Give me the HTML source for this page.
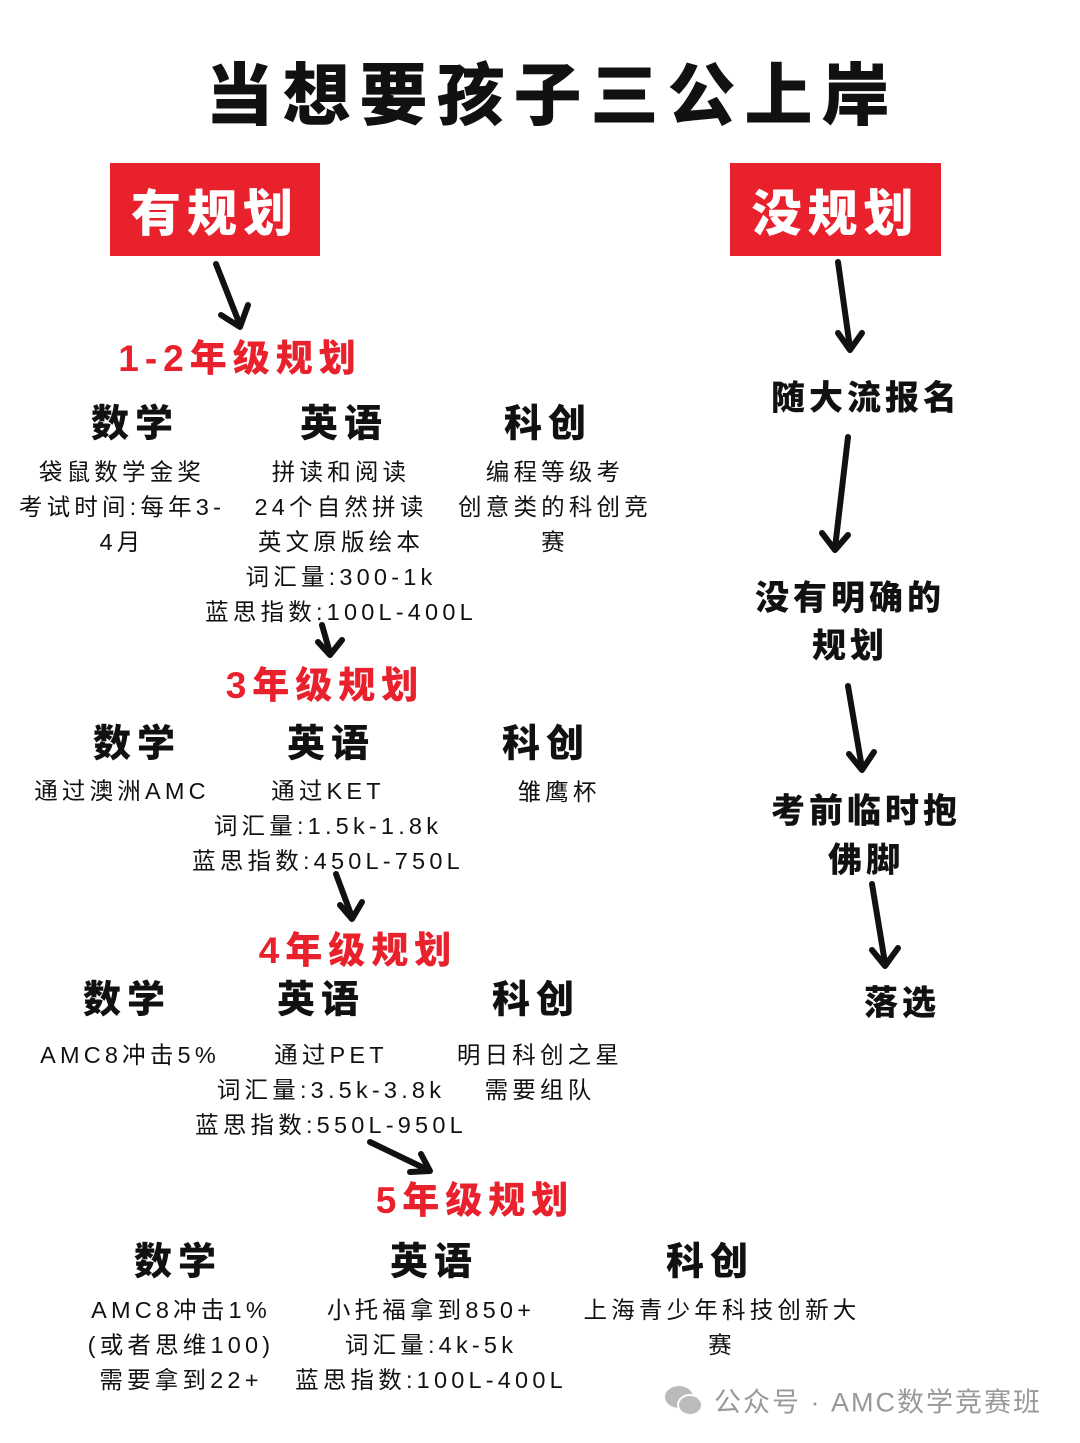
<!DOCTYPE html>
<html><head><meta charset="utf-8"><style>
html,body{margin:0;padding:0;background:#fff;}
body{width:1080px;height:1443px;position:relative;overflow:hidden;font-family:"Liberation Sans","Noto Sans CJK SC",sans-serif;color:#111;}
.t{position:absolute;transform:translate(-50%,-50%);white-space:nowrap;}
.title{font-size:68px;font-weight:900;letter-spacing:9px;}
.box{position:absolute;background:#e8212c;color:#fff;font-size:50px;font-weight:900;letter-spacing:6px;display:flex;align-items:center;justify-content:center;}
.red{color:#e8212c;font-size:37px;font-weight:900;letter-spacing:6px;}
.h{font-size:38px;font-weight:900;letter-spacing:6px;}
.s{font-size:23.5px;letter-spacing:4.2px;}
.r{font-size:34px;font-weight:900;letter-spacing:4px;}
</style></head><body>
<div class="t title" style="left:552px;top:90px">当想要孩子三公上岸</div>
<div class="box" style="left:110px;top:163px;width:210px;height:93px">有规划</div>
<div class="box" style="left:730px;top:163px;width:211px;height:93px">没规划</div>

<svg width="1080" height="1443" style="position:absolute;left:0;top:0" fill="none" stroke="#111" stroke-width="6" stroke-linecap="round" stroke-linejoin="round">
<line x1="216" y1="264" x2="240" y2="325"/><polyline points="221,315 240,327 248,305"/>
<line x1="322" y1="625" x2="330" y2="653"/><polyline points="318,642 330,655 342,640"/>
<line x1="336" y1="874" x2="352" y2="917"/><polyline points="340,905 352,919 362,902"/>
<line x1="370" y1="1142" x2="428" y2="1170"/><polyline points="410,1172 430,1171 421,1154"/>
<line x1="838" y1="262" x2="850" y2="348"/><polyline points="838,333 850,350 862,333"/>
<line x1="848" y1="437" x2="835" y2="548"/><polyline points="822,533 835,550 848,535"/>
<line x1="848" y1="686" x2="862" y2="768"/><polyline points="849,754 862,770 874,752"/>
<line x1="872" y1="884" x2="885" y2="963"/><polyline points="872,950 885,966 898,948"/>
</svg>

<div class="t red" style="left:240px;top:355px">1-2年级规划</div>
<div class="t h" style="left:135px;top:420px">数学</div>
<div class="t h" style="left:344px;top:420px">英语</div>
<div class="t h" style="left:548px;top:420px">科创</div>
<div class="t s" style="left:122px;top:470px">袋鼠数学金奖</div>
<div class="t s" style="left:122px;top:505px">考试时间:每年3-</div>
<div class="t s" style="left:122px;top:540px">4月</div>
<div class="t s" style="left:341px;top:470px">拼读和阅读</div>
<div class="t s" style="left:341px;top:505px">24个自然拼读</div>
<div class="t s" style="left:341px;top:540px">英文原版绘本</div>
<div class="t s" style="left:341px;top:575px">词汇量:300-1k</div>
<div class="t s" style="left:341px;top:610px">蓝思指数:100L-400L</div>
<div class="t s" style="left:555px;top:470px">编程等级考</div>
<div class="t s" style="left:555px;top:505px">创意类的科创竞</div>
<div class="t s" style="left:555px;top:540px">赛</div>

<div class="t red" style="left:325px;top:682px">3年级规划</div>
<div class="t h" style="left:137px;top:740px">数学</div>
<div class="t h" style="left:331px;top:740px">英语</div>
<div class="t h" style="left:546px;top:740px">科创</div>
<div class="t s" style="left:122px;top:789px">通过澳洲AMC</div>
<div class="t s" style="left:328px;top:789px">通过KET</div>
<div class="t s" style="left:328px;top:824px">词汇量:1.5k-1.8k</div>
<div class="t s" style="left:328px;top:859px">蓝思指数:450L-750L</div>
<div class="t s" style="left:559px;top:790px">雏鹰杯</div>

<div class="t red" style="left:358px;top:947px">4年级规划</div>
<div class="t h" style="left:127px;top:996px">数学</div>
<div class="t h" style="left:321px;top:996px">英语</div>
<div class="t h" style="left:536px;top:996px">科创</div>
<div class="t s" style="left:130px;top:1053px">AMC8冲击5%</div>
<div class="t s" style="left:331px;top:1053px">通过PET</div>
<div class="t s" style="left:331px;top:1088px">词汇量:3.5k-3.8k</div>
<div class="t s" style="left:331px;top:1123px">蓝思指数:550L-950L</div>
<div class="t s" style="left:540px;top:1053px">明日科创之星</div>
<div class="t s" style="left:540px;top:1088px">需要组队</div>

<div class="t red" style="left:475px;top:1197px">5年级规划</div>
<div class="t h" style="left:178px;top:1258px">数学</div>
<div class="t h" style="left:434px;top:1258px">英语</div>
<div class="t h" style="left:710px;top:1258px">科创</div>
<div class="t s" style="left:181px;top:1308px">AMC8冲击1%</div>
<div class="t s" style="left:181px;top:1343px">(或者思维100)</div>
<div class="t s" style="left:181px;top:1378px">需要拿到22+</div>
<div class="t s" style="left:431px;top:1308px">小托福拿到850+</div>
<div class="t s" style="left:431px;top:1343px">词汇量:4k-5k</div>
<div class="t s" style="left:431px;top:1378px">蓝思指数:100L-400L</div>
<div class="t s" style="left:722px;top:1308px">上海青少年科技创新大</div>
<div class="t s" style="left:722px;top:1343px">赛</div>

<div class="t r" style="left:866px;top:395px">随大流报名</div>
<div class="t r" style="left:850px;top:595px">没有明确的</div>
<div class="t r" style="left:850px;top:643px">规划</div>
<div class="t r" style="left:866px;top:808px">考前临时抱</div>
<div class="t r" style="left:866px;top:857px">佛脚</div>
<div class="t r" style="left:902px;top:1000px">落选</div>

<svg width="40" height="34" style="position:absolute;left:664px;top:1384px" fill="#bbb">
<ellipse cx="15" cy="13" rx="14" ry="11"/><ellipse cx="26" cy="21" rx="12" ry="10" stroke="#fff" stroke-width="2"/>
</svg>
<div class="t" style="left:878px;top:1400px;font-size:27px;color:#999;letter-spacing:2px">公众号 · AMC数学竞赛班</div>
</body></html>
